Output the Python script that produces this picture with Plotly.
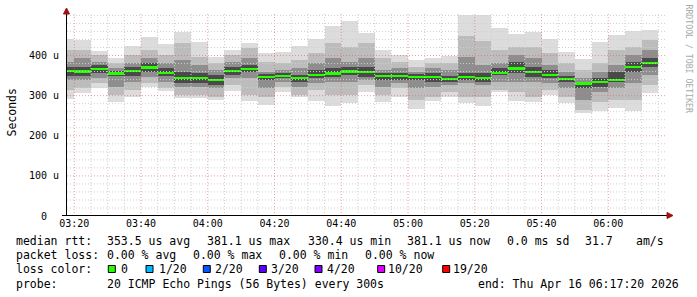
import pandas as pd
import plotly.graph_objects as go

# ---------------- data ----------------
bar_end = pd.date_range("2026-04-16 03:20", periods=36, freq="5min")  # end of each 5-min step

median_us = [362, 359.7, 367, 355.5, 361.5, 369.7, 357, 344, 344, 339, 361.5, 367,
             347, 349, 344, 351.5, 355.5, 360.5, 359, 349, 349, 347, 346.5, 341.5, 347,
             344, 357, 368, 359, 352, 342, 330.4, 334.7, 339.7, 371.5, 381.1]

ping_max = [441.7, 439, 412, 393.5, 424, 445, 429, 457.5, 432.5, 397.5, 414, 430,
            406, 410, 424, 441, 474, 486.7, 455, 415, 401.7, 389, 395, 400, 502,
            502, 469, 454, 457.5, 441.7, 410, 391.7, 432.5, 450, 461.7, 464]
ping_min = [291, 307.5, 320, 285, 297.5, 321, 312.5, 295, 295, 289, 312.5, 287.5,
            276.7, 310, 297.5, 286.7, 274, 281, 310, 285, 297.5, 266.7, 287.5, 296, 282.5,
            274, 310, 287.5, 285, 301.7, 282.5, 256, 261.7, 268.5, 261.7, 307.5]

band2_hi = [414, 414, 401.7, 381, 401.7, 414, 401.7, 431, 397.5, 381, 401.7, 418.5,
            385, 381, 389, 406, 431, 422.5, 431, 393.5, 385, 372.5, 381, 381, 447.5,
            435, 414, 422.5, 422.5, 406, 381, 364, 381, 414, 422.5, 439]
band2_lo = [314, 318.5, 331, 301.7, 314, 331, 318.5, 301.7, 301.7, 297.5, 326.7, 301.7,
            297.5, 322.5, 301.7, 314, 301.7, 301.7, 326.7, 301.7, 318.5, 289, 297.5, 310, 297.5,
            297.5, 314, 310, 297.5, 314, 297.5, 264, 285, 289, 289, 326.7]
band3_hi = [385, 393.5, 385, 368.5, 381, 393.5, 381, 389, 376.7, 364, 385, 393.5,
            360, 364, 368.5, 381, 393.5, 385, 393.5, 364, 368.5, 360, 368.5, 364, 397.5,
            376.7, 381, 401.7, 393.5, 376.7, 360, 343.5, 360, 376.7, 401.7, 414]
band3_lo = [339, 339, 343.5, 322.5, 335, 347.5, 335, 322.5, 322.5, 318.5, 343.5, 343.5,
            318.5, 335, 322.5, 331, 335, 335, 339, 322.5, 331, 318.5, 322.5, 326.7, 331,
            326.7, 335, 335, 335, 331, 318.5, 289, 310, 318.5, 331, 351.7]
band4_hi = [372.5, 372.5, 376.7, 362.5, 372.5, 381, 368.5, 360, 356, 351.7, 372.5, 376.7,
            354, 356, 351.7, 364, 368.5, 372.5, 372.5, 356, 356, 354, 356, 349, 356,
            356, 368.5, 385, 372.5, 364, 349, 335, 343.5, 360, 385, 393.5]
band4_lo = [349, 349, 356, 349, 349, 360, 349, 331, 331, 326.7, 351.7, 360,
            339, 343.5, 335, 343.5, 347.5, 351.7, 347.5, 339, 339, 339, 335, 335, 339,
            335, 351.7, 356, 347.5, 343.5, 335, 318.5, 322.5, 335, 360, 372.5]

y_tick_vals = [0, 100, 200, 300, 400]
y_tick_text = ["0\u00a0\u00a0", "100 u", "200 u", "300 u", "400 u"]

legend_rows = [
    [("median rtt:", 16), ("353.5 us avg", 107.3), ("381.1 us max", 207.3),
     ("330.4 us min", 308.3), ("381.1 us now", 406.7), ("0.0 ms sd", 507.3),
     ("31.7", 585), ("am/s", 635.7)],
    [("packet loss:", 16), ("0.00 % avg", 107.3), ("0.00 % max", 193.3),
     ("0.00 % min", 279.3), ("0.00 % now", 365)],
    [("loss color:", 16)],
    [("probe:", 16), ("20 ICMP Echo Pings (56 Bytes) every 300s", 107.3),
     ("end: Thu Apr 16 06:17:20 2026", 478.3)],
]
loss_labels = ["0", "1/20", "2/20", "3/20", "4/20", "10/20", "19/20"]
loss_colors = ["#26ff00", "#00b8ff", "#0059ff", "#5e00ff", "#7e00ff", "#dd00ff", "#ff0000"]

# ---------------- geometry ----------------
W, H = 697, 297
L, R, T, B = 67, 30, 13, 81
PW, PH = W - L - R, H - T - B
def px(x):
    return (x - L) / PW
def py(y):
    return (H - B - y) / PH

mono = "DejaVu Sans Mono"
centers = bar_end - pd.Timedelta(seconds=150)
step_ms = 5 * 60 * 1000

fig = go.Figure()
bands = [(ping_min, ping_max, "#dcdcdc"), (band2_lo, band2_hi, "#bcbcbc"),
         (band3_lo, band3_hi, "#8e8e8e"), (band4_lo, band4_hi, "#4a4a4a")]
for lo, hi, col in bands:
    fig.add_trace(go.Bar(x=centers, base=lo, y=[h - l for l, h in zip(lo, hi)],
                         width=step_ms, marker=dict(color=col, line=dict(width=0)),
                         hoverinfo="skip"))
med_h = 6
fig.add_trace(go.Bar(x=centers, base=[m - med_h / 2 for m in median_us],
                     y=[med_h] * len(median_us), width=step_ms,
                     marker=dict(color="#26ff00", line=dict(width=0)), hoverinfo="skip"))

shapes = []
minor_col = "#cfcfcf"
major_col = "rgba(225,95,95,0.6)"
dot = "1px,2px"
x_minor = pd.date_range("2026-04-16 03:20", "2026-04-16 06:15", freq="5min")
x_major = pd.date_range("2026-04-16 03:20", "2026-04-16 06:00", freq="20min")
for t in x_minor:
    col = major_col if t in x_major else minor_col
    shapes.append(dict(type="line", xref="x", yref="paper", x0=t, x1=t, y0=0, y1=1,
                       line=dict(color=col, width=1, dash=dot), layer="above"))
for v in range(20, 501, 20):
    col = major_col if (v % 100 == 0 and v < 500) else minor_col
    shapes.append(dict(type="line", xref="paper", yref="y", x0=0, x1=1, y0=v, y1=v,
                       line=dict(color=col, width=1, dash=dot), layer="above"))
# axis lines and arrows
ax_y = 66.5
ax_x = 215.5
shapes.append(dict(type="line", xref="paper", yref="paper", x0=px(ax_y), x1=px(ax_y),
                   y0=py(ax_x), y1=py(12), line=dict(color="#000", width=1), layer="above"))
shapes.append(dict(type="line", xref="paper", yref="paper", x0=px(62), x1=px(668),
                   y0=py(ax_x), y1=py(ax_x), line=dict(color="#000", width=1), layer="above"))
arrow_col = "#a01010"
shapes.append(dict(type="path", xref="paper", yref="paper",
                   path=f"M {px(ax_y-3)},{py(14)} L {px(ax_y)},{py(8)} L {px(ax_y+3)},{py(14)} Z",
                   fillcolor=arrow_col, line=dict(color=arrow_col, width=1), layer="above"))
shapes.append(dict(type="path", xref="paper", yref="paper",
                   path=f"M {px(667)},{py(ax_x-3)} L {px(673)},{py(ax_x)} L {px(667)},{py(ax_x+3)} Z",
                   fillcolor=arrow_col, line=dict(color=arrow_col, width=1), layer="above"))

# legend boxes
box_x = [108.3, 146, 203.3, 259.3, 315, 377.7, 442.7]
lab_x = [120.7, 159.3, 215, 270.7, 326.7, 387.7, 453.3]
for bx, c in zip(box_x, loss_colors):
    shapes.append(dict(type="rect", xref="paper", yref="paper", x0=px(bx), x1=px(bx + 7),
                       y0=py(272.5), y1=py(265.5), fillcolor=c,
                       line=dict(color="#000", width=1), layer="above"))

annotations = []
row_y = [240.8, 255.3, 269.4, 284]
fnt = dict(family=mono, size=11.5, color="#000")
for ry, row in zip(row_y, legend_rows):
    for txt, x in row:
        annotations.append(dict(text=txt, x=px(x - 1), y=py(ry), xref="paper", yref="paper",
                                xanchor="left", yanchor="middle", showarrow=False,
                                font=fnt, borderpad=0))
for lab, x in zip(loss_labels, lab_x):
    annotations.append(dict(text=lab, x=px(x - 1), y=py(row_y[2]), xref="paper", yref="paper",
                            xanchor="left", yanchor="middle", showarrow=False,
                            font=fnt, borderpad=0))
annotations.append(dict(text="Seconds", x=px(11), y=py(112.5), xref="paper", yref="paper",
                        textangle=-90, showarrow=False, font=fnt,
                        xanchor="center", yanchor="middle"))
annotations.append(dict(text="RRDTOOL / TOBI OETIKER", x=px(688.5), y=py(59),
                        xref="paper", yref="paper", textangle=90, showarrow=False,
                        font=dict(family=mono, size=8.2, color="#a8a8a8"),
                        xanchor="center", yanchor="middle"))

fig.update_layout(
    width=W, height=H, margin=dict(l=L, r=R, t=T, b=B, pad=0),
    paper_bgcolor="white", plot_bgcolor="white",
    barmode="overlay", bargap=0, showlegend=False,
    font=dict(family=mono, size=10, color="#000"),
    shapes=shapes, annotations=annotations,
    xaxis=dict(type="date", range=["2026-04-16 03:17:49", "2026-04-16 06:17:36"],
               tickvals=list(x_major), ticktext=[t.strftime("%H:%M") for t in x_major],
               showgrid=False, zeroline=False, showline=False, ticks="",
               tickfont=dict(family=mono, size=10, color="#000")),
    yaxis=dict(range=[0, 506], tickvals=y_tick_vals, ticktext=y_tick_text,
               showgrid=False, zeroline=False, showline=False,
               ticks="outside", ticklen=5, tickcolor="rgba(0,0,0,0)",
               tickfont=dict(family=mono, size=10, color="#000")),
)

fig.write_html("out.html")
